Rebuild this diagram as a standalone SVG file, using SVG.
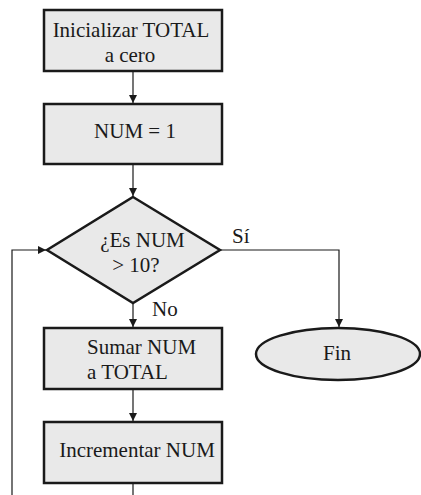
<svg xmlns="http://www.w3.org/2000/svg" width="421" height="495" viewBox="0 0 421 495">
<style>
.box{fill:#e9e9e9;stroke:#1a1a1a;stroke-width:2.5}
.t{font-family:"Liberation Serif","Times New Roman",serif;font-size:21px;fill:#1a1a1a}
.c{text-anchor:middle}
.ln{fill:none;stroke:#1a1a1a;stroke-width:1.2}
</style>
<defs>
<marker id="ah" markerWidth="8" markerHeight="8" refX="8" refY="4" orient="auto" markerUnits="userSpaceOnUse">
<path d="M0,0 L8,4 L0,8 Z" fill="#1a1a1a"/>
</marker>
</defs>
<rect width="421" height="495" fill="#ffffff"/>
<g id="connectors">
<line class="ln" x1="133" y1="71" x2="133" y2="103" marker-end="url(#ah)"/>
<line class="ln" x1="133" y1="164" x2="133" y2="196" marker-end="url(#ah)"/>
<line class="ln" x1="133" y1="303" x2="133" y2="327" marker-end="url(#ah)"/>
<line class="ln" x1="133" y1="389" x2="133" y2="421" marker-end="url(#ah)"/>
<polyline class="ln" points="220,250 339,250 339,327" marker-end="url(#ah)"/>
<polyline class="ln" points="133,483 133,495"/>
<polyline class="ln" points="12,495 12,250 46,250" marker-end="url(#ah)"/>
<text class="t" x="232" y="243">Sí</text>
<text class="t" x="152" y="316">No</text>
</g>
<g id="init">
<rect class="box" x="44" y="10" width="178" height="61"/>
<text class="t c" x="131" y="37">Inicializar TOTAL</text>
<text class="t c" x="130" y="62">a cero</text>
</g>
<g id="num1">
<rect class="box" x="44" y="104" width="178" height="60"/>
<text class="t c" x="135" y="138">NUM = 1</text>
</g>
<g id="decision">
<polygon class="box" points="133,197 220,250 133,303 47,250"/>
<text class="t c" x="142.5" y="247">¿Es NUM</text>
<text class="t c" x="136" y="272">&gt; 10?</text>
</g>
<g id="sumar">
<rect class="box" x="44" y="328" width="178" height="61"/>
<text class="t" x="87" y="354">Sumar NUM</text>
<text class="t" x="87" y="379">a TOTAL</text>
</g>
<g id="incrementar">
<rect class="box" x="44" y="422" width="178" height="61"/>
<text class="t c" x="137" y="457">Incrementar NUM</text>
</g>
<g id="fin">
<ellipse class="box" cx="338" cy="354" rx="82" ry="26"/>
<text class="t c" x="337" y="360">Fin</text>
</g>
</svg>
